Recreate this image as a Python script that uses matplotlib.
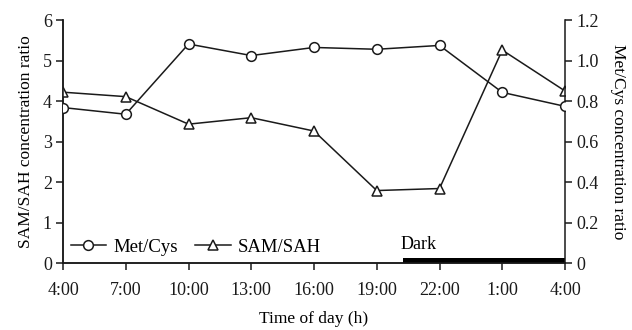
import matplotlib
matplotlib.use("Agg")
import matplotlib.pyplot as plt

plt.rcParams['font.family'] = ['Liberation Serif', 'DejaVu Serif']

# hours after 4:00
hours = [0, 3, 6, 9, 12, 15, 18, 21, 24]
tick_labels = ["4:00", "7:00", "10:00", "13:00", "16:00", "19:00", "22:00", "1:00", "4:00"]

met_cys = [0.768, 0.735, 1.082, 1.025, 1.065, 1.056, 1.075, 0.843, 0.774]
sam_sah = [4.22, 4.11, 3.43, 3.59, 3.26, 1.79, 1.84, 5.26, 4.25]

dark_start = 16.25
dark_end = 24
dark_height = 0.12

fig, ax = plt.subplots(figsize=(6.32, 3.30), dpi=100)
ax2 = ax.twinx()

ax.plot(hours, sam_sah, color='#1a1a1a', lw=1.1, marker='^', markersize=7,
        markerfacecolor='white', markeredgecolor='#1a1a1a', markeredgewidth=1.1,
        label='SAM/SAH', zorder=3)
ax2.plot(hours, met_cys, color='#1a1a1a', lw=1.1, marker='o', markersize=7,
         markerfacecolor='white', markeredgecolor='#1a1a1a', markeredgewidth=1.1,
         label='Met/Cys', zorder=3)

# dark period bar
ax.fill_between([dark_start, dark_end], 0, dark_height, color='black', lw=0, zorder=4)
ax.text(dark_start - 0.1, 0.24, "Dark", fontsize=13, ha='left', va='bottom')

ax.set_xlim(0, 24)
ax.set_ylim(0, 6)
ax2.set_ylim(0, 1.2)
ax.set_xticks(hours)
ax.set_xticklabels(tick_labels)
ax.set_yticks(range(0, 7))
ax2.set_yticks([0, 0.2, 0.4, 0.6, 0.8, 1.0, 1.2])
ax2.set_yticklabels(["0", "0.2", "0.4", "0.6", "0.8", "1.0", "1.2"])

for a in (ax, ax2):
    a.spines['top'].set_visible(False)
    a.tick_params(direction='out', length=5, width=1.1, labelsize=13, pad=3,
                  colors='#1a1a1a')
    for s in a.spines.values():
        s.set_linewidth(1.1)
        s.set_color('#1a1a1a')
ax.spines['right'].set_visible(False)
ax.tick_params(axis='x', pad=9)

ax.set_xlabel("Time of day (h)", fontsize=12.5, labelpad=8)
ax.set_ylabel("SAM/SAH concentration ratio", fontsize=12.5, labelpad=6)
ax2.set_ylabel("Met/Cys concentration ratio", fontsize=12.5, rotation=270, labelpad=20)

h1, l1 = ax2.get_legend_handles_labels()
h2, l2 = ax.get_legend_handles_labels()
ax.legend(h1 + h2, l1 + l2, loc='lower left', ncol=2, frameon=False, fontsize=13.5,
          handlelength=1.9, columnspacing=0.9, handletextpad=0.4,
          borderaxespad=0.0, bbox_to_anchor=(0.0, 0.0))

fig.subplots_adjust(left=0.0997, right=0.894, top=0.939, bottom=0.203)
fig.savefig("out.png", dpi=100)
